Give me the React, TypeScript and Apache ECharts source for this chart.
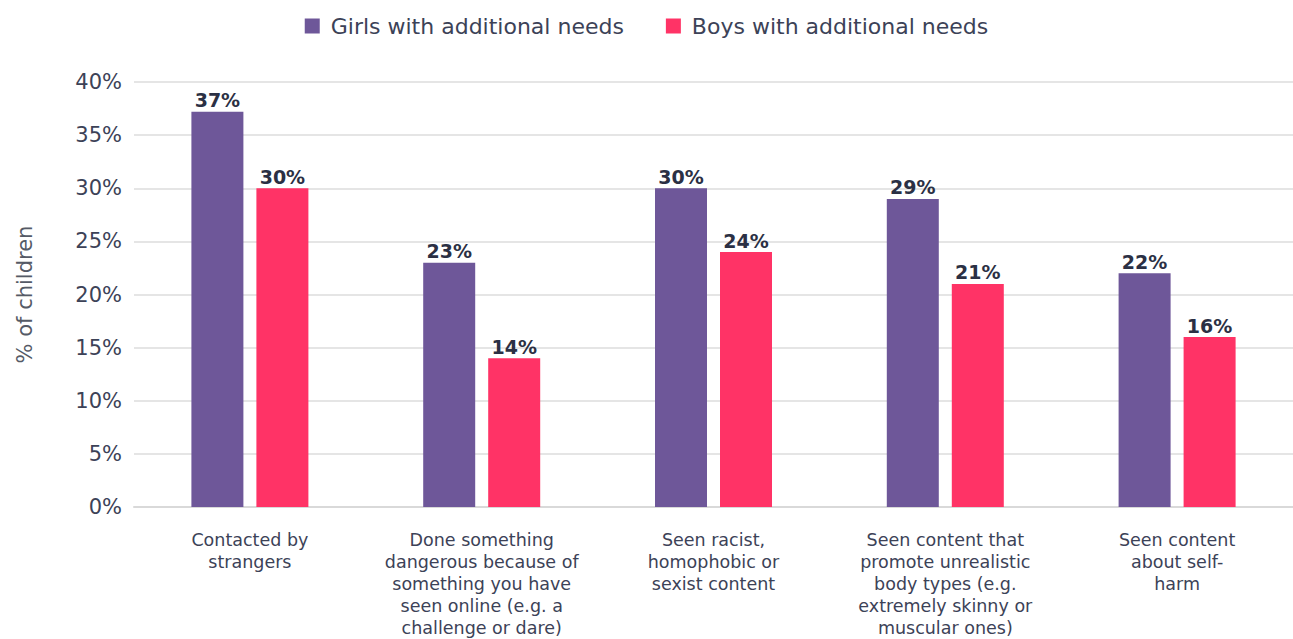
import React, { useEffect, useRef } from "react";
import * as echarts from "echarts";

const categories = [
  "Contacted by\nstrangers",
  "Done something\ndangerous because of\nsomething you have\nseen online (e.g. a\nchallenge or dare)",
  "Seen racist,\nhomophobic or\nsexist content",
  "Seen content that\npromote unrealistic\nbody types (e.g.\nextremely skinny or\nmuscular ones)",
  "Seen content\nabout self-\nharm",
];
const girls = [37.2, 23, 30, 29, 22];
const boys = [30, 14, 24, 21, 16];
const seriesNames = ["Girls with additional needs", "Boys with additional needs"];
const yTicks = { min: 0, max: 40, interval: 5 };

const FONT = "DejaVu Sans";
const PURPLE = "#6E5799";
const PINK = "#FF3366";

export default function App() {
  const ref = useRef<HTMLDivElement>(null);
  useEffect(() => {
    const chart = echarts.init(ref.current!, null, { renderer: "svg" });
    const label = {
      show: true,
      position: "top",
      distance: 2,
      formatter: (p: any) => Math.round(p.value) + "%",
      fontFamily: FONT,
      fontWeight: "bold",
      fontSize: 19,
      color: "#2B3044",
    };
    chart.setOption({
      animation: false,
      textStyle: { fontFamily: FONT },
      legend: {
        top: 10,
        left: "center",
        itemWidth: 15,
        itemHeight: 15,
        itemGap: 42,
        icon: "rect",
        textStyle: { fontFamily: FONT, fontSize: 22, color: "#3C4257", padding: [0, 0, 0, 6] },
        data: seriesNames,
      },
      grid: { left: 134, right: 0, top: 82, bottom: 132 },
      xAxis: {
        type: "category",
        data: categories,
        axisTick: { show: false },
        axisLine: { lineStyle: { color: "#D9D9D9", width: 2 } },
        axisLabel: {
          interval: 0,
          margin: 22,
          fontFamily: FONT,
          fontSize: 17.5,
          lineHeight: 22,
          color: "#3C4257",
          align: "center",
          verticalAlign: "top",
        },
      },
      yAxis: {
        type: "value",
        min: yTicks.min,
        max: yTicks.max,
        interval: yTicks.interval,
        name: "% of children",
        nameLocation: "middle",
        nameGap: 99,
        nameRotate: 90,
        nameTextStyle: { fontFamily: FONT, fontSize: 21, color: "#555A66" },
        axisLabel: {
          formatter: "{value}%",
          margin: 12,
          fontFamily: FONT,
          fontSize: 21,
          color: "#3C4257",
        },
        splitLine: { lineStyle: { color: "#DCDCDC", width: 1.5 } },
      },
      series: [
        {
          name: seriesNames[0],
          type: "bar",
          data: girls,
          barWidth: 52,
          barGap: "25%",
          itemStyle: { color: PURPLE },
          label,
        },
        {
          name: seriesNames[1],
          type: "bar",
          data: boys,
          barWidth: 52,
          itemStyle: { color: PINK },
          label,
        },
      ],
    });
    return () => chart.dispose();
  }, []);
  return (
    <div
      ref={ref}
      style={{ position: "fixed", left: 0, top: 0, width: 1293, height: 639, background: "#fff" }}
    />
  );
}
